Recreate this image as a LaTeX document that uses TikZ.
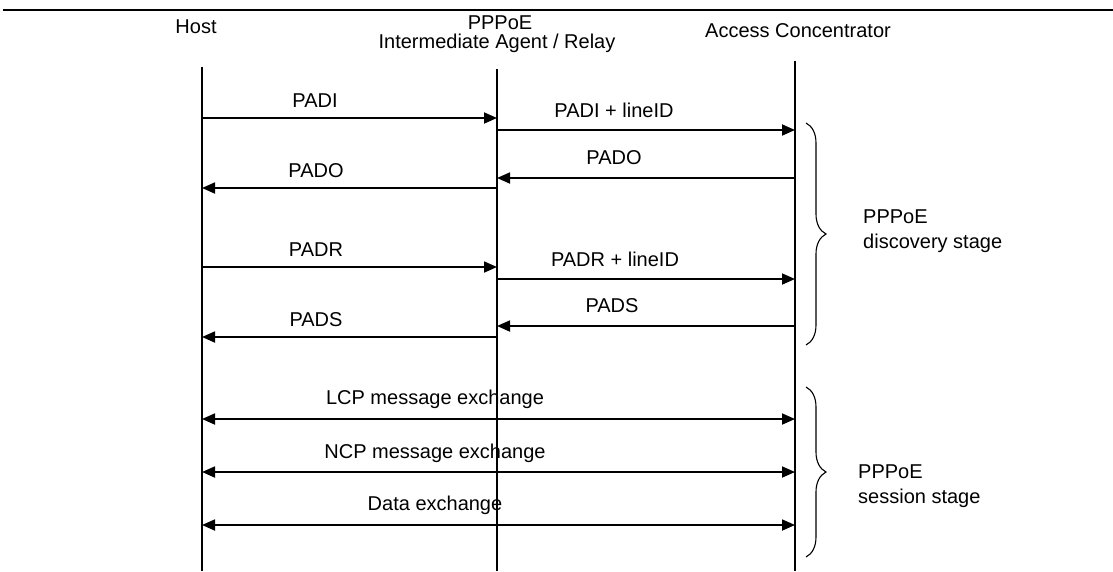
\documentclass[tikz,border=0pt]{standalone}
\usepackage{fontspec}
\setmainfont{Liberation Sans}
\usetikzlibrary{arrows.meta,decorations.pathreplacing}
\begin{document}
\begin{tikzpicture}[x=1pt,y=-1pt,
  font=\fontsize{20}{25}\selectfont,
  life/.style={line width=1.8pt},
  msg/.style={line width=1.8pt,-{Triangle[length=13pt,width=11pt]}},
  bimsg/.style={line width=1.8pt,{Triangle[length=13pt,width=11pt]}-{Triangle[length=13pt,width=11pt]}},
  lbl/.style={anchor=base,inner sep=0pt},
  side/.style={anchor=base west,inner sep=0pt},
  brc/.style={line width=1.1pt,decorate,decoration={brace,amplitude=20pt}}]
\useasboundingbox (0,0) rectangle (1113,571);

% top rule
\coordinate (ruleL) at (3,10);
\coordinate (ruleR) at (1113,10);
\draw[line width=2.2pt] (ruleL) -- (ruleR);

% headers
\node[lbl] (host) at (196,33) {Host};
\node[lbl] (ppp) at (500,29) {PPPoE};
\node[lbl] (relay) at (497,48) {Intermediate Agent / Relay};
\node[lbl] (ac) at (798,37) {Access Concentrator};

% lifelines
\coordinate (hT) at (202,67);  \coordinate (hB) at (202,571);
\coordinate (rT) at (497,69);  \coordinate (rB) at (497,571);
\coordinate (aT) at (795,61);  \coordinate (aB) at (795,571);
\draw[life] (hT) -- (hB);
\draw[life] (rT) -- (rB);
\draw[life] (aT) -- (aB);

% message endpoints
\coordinate (h1) at (202,118); \coordinate (r1) at (497,118);
\coordinate (r2) at (497,130); \coordinate (a2) at (795,130);
\coordinate (a3) at (795,178); \coordinate (r3) at (497,178);
\coordinate (r4) at (497,188); \coordinate (h4) at (202,188);
\coordinate (h5) at (202,267); \coordinate (r5) at (497,267);
\coordinate (r6) at (497,279); \coordinate (a6) at (795,279);
\coordinate (a7) at (795,326); \coordinate (r7) at (497,326);
\coordinate (r8) at (497,337); \coordinate (h8) at (202,337);
\coordinate (h9) at (202,419); \coordinate (a9) at (795,419);
\coordinate (h10) at (202,472); \coordinate (a10) at (795,472);
\coordinate (h11) at (202,525); \coordinate (a11) at (795,525);

\draw[msg] (h1) -- (r1);
\draw[msg] (r2) -- (a2);
\draw[msg] (a3) -- (r3);
\draw[msg] (r4) -- (h4);
\draw[msg] (h5) -- (r5);
\draw[msg] (r6) -- (a6);
\draw[msg] (a7) -- (r7);
\draw[msg] (r8) -- (h8);
\draw[bimsg] (h9) -- (a9);
\draw[bimsg] (h10) -- (a10);
\draw[bimsg] (h11) -- (a11);

% message labels
\node[lbl] (l1) at (315,107) {PADI};
\node[lbl] (l2) at (614,117) {PADI + lineID};
\node[lbl] (l3) at (614,164) {PADO};
\node[lbl] (l4) at (316,177) {PADO};
\node[lbl] (l5) at (316,256) {PADR};
\node[lbl] (l6) at (615,266) {PADR + lineID};
\node[lbl] (l7) at (612,312) {PADS};
\node[lbl] (l8) at (316,326) {PADS};
\node[lbl] (l9) at (435,404) {LCP message exchange};
\node[lbl] (l10) at (435,458) {NCP message exchange};
\node[lbl] (l11) at (435,510) {Data exchange};

% braces
\coordinate (b1T) at (806,123); \coordinate (b1B) at (806,345);
\coordinate (b2T) at (806,387); \coordinate (b2B) at (806,557);
\draw[brc] (b1T) -- (b1B);
\draw[brc] (b2T) -- (b2B);

\node[side] (d1) at (863,223) {PPPoE};
\node[side] (d2) at (863,248) {discovery stage};
\node[side] (s1) at (858,478) {PPPoE};
\node[side] (s2) at (858,503) {session stage};
\end{tikzpicture}
\end{document}
